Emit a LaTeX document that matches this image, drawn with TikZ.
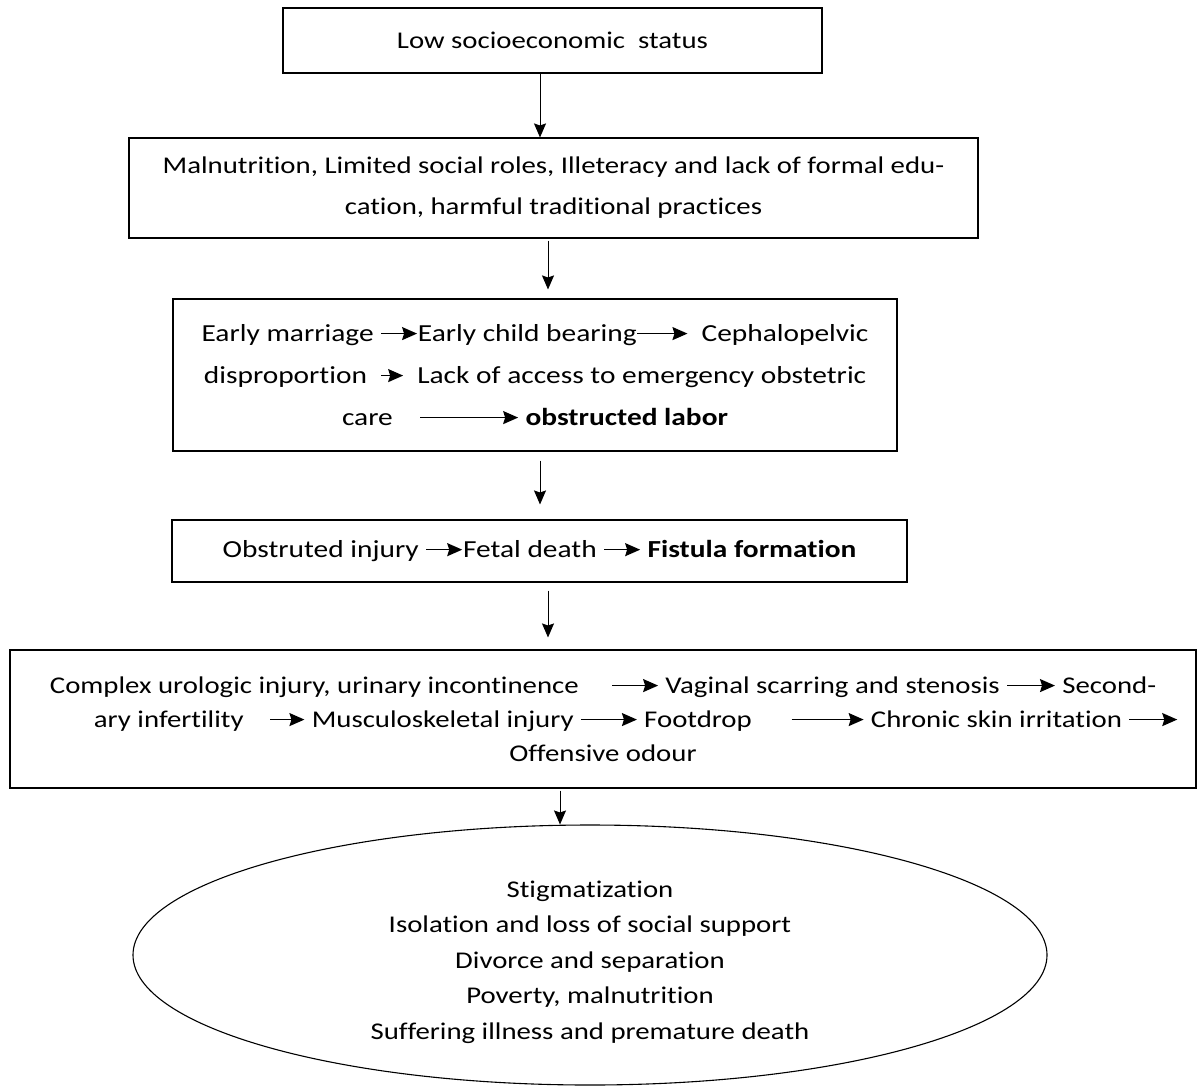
\documentclass[tikz,border=0pt]{standalone}
\usepackage{fontspec}
\setmainfont[FakeStretch=1.2,Ligatures=NoCommon]{Carlito}
\usetikzlibrary{shapes.geometric,arrows.meta}
\newcommand{\ia}[1]{\tikz[baseline=-0.32em]\draw[line width=1.6pt,-{Stealth[length=15pt,width=13pt,inset=2pt]}] (0,0)--(#1pt,0);}
\begin{document}
\begin{tikzpicture}[x=1pt,y=-1pt,
  box/.style={draw,line width=1.1pt,rectangle,inner sep=0pt,align=center},
  conn/.style={line width=1pt,-{Stealth[length=14pt,width=12pt,inset=2pt]}},
  txt/.style={font=\fontsize{24}{41}\selectfont}]
\useasboundingbox (0,0) rectangle (1198,1085);
\fill[white] (0,0) rectangle (1198,1085);

\node[box,minimum width=539pt,minimum height=65pt,txt] (b1) at (552.5,40.5) {Low socioeconomic\ \ status};
\node[box,minimum width=849pt,minimum height=100pt,font=\fontsize{24}{41}\selectfont] (b2) at (553.5,188)
 {Malnutrition, Limited social roles, Illeteracy and lack of formal edu-\\cation, harmful traditional practices};
\node[box,minimum width=724pt,minimum height=152pt,font=\fontsize{24.5}{42}\selectfont] (b3) at (535,375)
 {Early marriage \ia{36}Early child bearing\ia{50}\ \ Cephalopelvic\\
  disproportion\ \ \ia{22}\ \ Lack of access to emergency obstetric\\
  care\ \ \ \ \ia{98}\ \textbf{obstructed labor}};
\node[box,minimum width=735pt,minimum height=62pt,font=\fontsize{24.5}{42}\selectfont] (b4) at (539.5,551)
 {Obstruted injury \ia{36}Fetal death \ia{36} \textbf{Fistula formation}};
\node[box,minimum width=1186pt,minimum height=138pt,font=\fontsize{24}{34}\selectfont] (b5) at (603,719)
 {Complex urologic injury,\ urinary incontinence\ \ \ \ \ \ia{46} Vaginal scarring and stenosis \ia{48} Second-\\
  \hspace*{66pt}ary infertility\ \ \ \ \ia{34} Musculoskeletal\ injury \ia{56} Footdrop\ \ \ \ \ \ \ia{72} Chronic skin irritation \ia{48}\\
  Offensive odour};
\node[draw,ellipse,line width=1.1pt,minimum width=914pt,minimum height=260pt] (el) at (590,955) {};
\node[align=center,font=\fontsize{24}{35.5}\selectfont] (eltxt) at (590,962)
 {Stigmatization\\Isolation and loss of social support\\Divorce and separation\\Poverty, malnutrition\\Suffering illness and premature death};

\coordinate (xa) at (540,0);
\coordinate (xb) at (548,0);
\coordinate (xc) at (560,0);
\draw[conn] (b1.south -| xa) -- (b2.north -| xa);
\draw[conn,shorten <=2pt,shorten >=9pt] (b2.south -| xb) -- (b3.north -| xb);
\draw[conn,shorten <=9pt,shorten >=15pt] (b3.south -| xa) -- (b4.north -| xa);
\draw[conn,shorten <=8pt,shorten >=12pt] (b4.south -| xb) -- (b5.north -| xb);
\draw[conn,shorten <=2pt] (b5.south -| xc) -- (el.north -| xc);
\end{tikzpicture}
\end{document}
